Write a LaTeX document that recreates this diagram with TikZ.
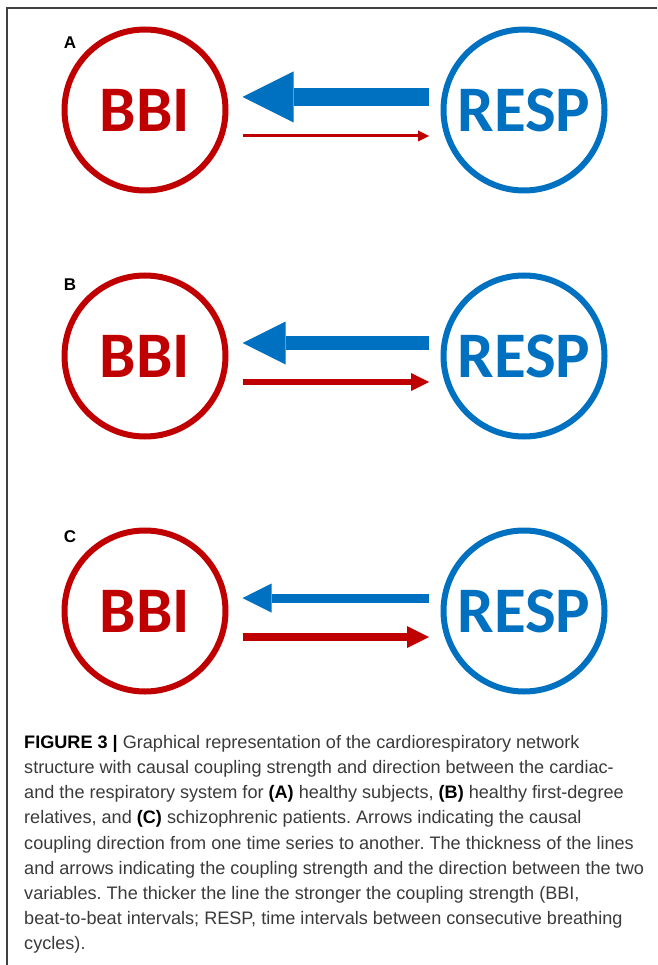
\documentclass[tikz,border=0pt]{standalone}
\usepackage{fontspec}
\setmainfont{Liberation Sans}
\newfontfamily\calfont{Carlito}
\usetikzlibrary{arrows.meta,positioning}
\definecolor{bbired}{HTML}{C00000}
\definecolor{respblue}{HTML}{0070C0}
\definecolor{captext}{HTML}{3A3A3A}
\tikzset{
  ring/.style={circle,draw,line width=6pt,minimum size=161pt,inner sep=0pt,
    font=\calfont\bfseries\fontsize{65}{65}\selectfont},
  panellabel/.style={font=\bfseries\fontsize{17}{17}\selectfont,inner sep=0pt},
  framerule/.style={draw=black!75,line width=1.5pt},
  caption/.style={align=left,inner sep=0pt,text=captext,
    font=\frenchspacing\fontsize{18.1}{25.2}\selectfont}
}

\begin{document}
\begin{tikzpicture}[x=1pt,y=-1pt]
  \useasboundingbox (0,0) rectangle (657,965);
  % frame
  \draw[framerule] (7,965) -- (7,8) -- (657,8);

  % three panels: BBI and RESP with coupling arrows
  \foreach \lab/\cy/\ly/\bw/\bh/\rw/\rh in {A/110/43/18/51/3/11,B/356/285/14/43/6/18,C/611/537/9/29/8/22} {
    \node[ring,bbired] (bbi\lab) at (145,\cy) {BBI};
    \node[ring,respblue,right=212pt of bbi\lab] (resp\lab) {RESP};
    \node[panellabel] (lab\lab) at (70,\ly) {\lab};
    % RESP -> BBI
    \draw[respblue,line width=\bw pt,-{Triangle[length=\bh pt,width=\bh pt,line width=0pt]},
      shorten <=11.5pt,shorten >=14pt]
      ([yshift=13pt]resp\lab.west) -- ([yshift=13pt]bbi\lab.east);
    % BBI -> RESP
    \draw[bbired,line width=\rw pt,-{Triangle[length=\rh pt,width=\rh pt,line width=0pt]},
      shorten <=14pt,shorten >=11.5pt]
      ([yshift=-26pt]bbi\lab.east) -- ([yshift=-26pt]resp\lab.west);
  }

  % caption
  \node[caption,anchor=north west] (cap) at (24,735) {%
    {\color{black}\textbf{FIGURE 3 |}} Graphical representation of the cardiorespiratory network\\
    structure with causal coupling strength and direction between the cardiac-\\
    and the respiratory system for {\color{black}\textbf{(A)}} healthy subjects, {\color{black}\textbf{(B)}} healthy first-degree\\
    relatives, and {\color{black}\textbf{(C)}} schizophrenic patients. Arrows indicating the causal\\
    coupling direction from one time series to another. The thickness of the lines\\
    and arrows indicating the coupling strength and the direction between the two\\
    variables. The thicker the line the stronger the coupling strength (BBI,\\
    beat-to-beat intervals; RESP, time intervals between consecutive breathing\\
    cycles).};
\end{tikzpicture}
\end{document}
